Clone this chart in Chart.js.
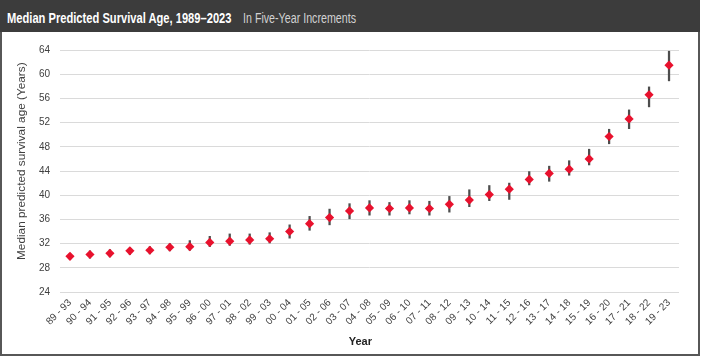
<!DOCTYPE html>
<html><head><meta charset="utf-8">
<script src="https://cdn.jsdelivr.net/npm/chart.js@4"></script>
<style>
html,body{margin:0;padding:0;background:#fff;overflow:hidden;}
#frame{position:absolute;left:0;top:0;width:700px;height:356px;box-sizing:border-box;border:2px solid #575757;border-top:none;background:#fff;}
#head{position:absolute;left:0;top:0;width:700px;height:32px;background:#3c3c3c;}
.ht{position:absolute;top:11px;font-size:14px;line-height:14px;white-space:nowrap;transform-origin:0 0;font-family:"Liberation Sans Narrow","Liberation Sans",Arial,sans-serif;}
#title{left:7px;font-weight:bold;color:#ffffff;}
#sub{left:243px;font-weight:normal;color:#d2d2d2;}
#wrap{position:absolute;left:0;top:0;width:702px;height:358px;}
</style></head>
<body>
<div id="frame"></div>
<div id="head">
  <span class="ht" id="title">Median Predicted Survival Age, 1989–2023</span>
  <span class="ht" id="sub">In Five-Year Increments</span>
</div>
<div id="wrap"><canvas id="c"></canvas></div>
<script>
const categories = ["89 - 93","90 - 94","91 - 95","92 - 96","93 - 97","94 - 98","95 - 99","96 - 00","97 - 01","98 - 02","99 - 03","00 - 04","01 - 05","02 - 06","03 - 07","04 - 08","05 - 09","06 - 10","07 - 11","08 - 12","09 - 13","10 - 14","11 - 15","12 - 16","13 - 17","14 - 18","15 - 19","16 - 20","17 - 21","18 - 22","19 - 23"];
const medianAge = [29.9,30.2,30.4,30.8,30.9,31.4,31.5,32.2,32.4,32.6,32.8,34.0,35.3,36.3,37.4,37.9,37.8,37.9,37.8,38.5,39.2,40.1,41.0,42.6,43.6,44.3,46.0,49.7,52.6,56.6,61.5];
const lowerCI = [29.4,29.6,29.8,30.2,30.3,30.8,30.9,31.5,31.7,31.9,32.1,32.9,34.2,35.1,36.1,36.7,36.7,36.9,36.7,37.2,38.1,39.1,39.3,41.7,42.3,43.3,45.0,48.5,51.0,54.6,58.9];
const upperCI = [30.4,30.8,31.0,31.3,31.5,32.0,32.5,33.2,33.6,33.6,33.8,35.1,36.5,37.7,38.6,39.1,38.8,39.1,39.0,39.8,40.9,41.6,42.0,43.9,44.8,45.7,47.6,50.9,54.1,57.9,63.8];
const yTicks = [24,28,32,36,40,44,48,52,56,60,64];

// fit header texts to reference widths
function fitText(id, w){ const el=document.getElementById(id); const r=el.getBoundingClientRect().width; el.style.transform='scaleX('+(w/r)+')'; }
fitText('title',224.5); fitText('sub',113);

const tickFont = {family:"'Liberation Sans', Arial, sans-serif", size:10};
new Chart(document.getElementById('c'), {
  type:'bar',
  data:{
    labels:categories,
    datasets:[
      {type:'line', label:'Median', data:medianAge, showLine:false, pointStyle:'rectRot', pointRadius:4.6, pointHoverRadius:4.6, pointBackgroundColor:'#e8112d', pointBorderWidth:0, borderWidth:0, order:0},
      {type:'bar', label:'CI', data:lowerCI.map((l,i)=>[l,upperCI[i]]), backgroundColor:'#4d4d4d', barThickness:1.6, order:1}
    ]
  },
  options:{
    responsive:true, maintainAspectRatio:false, animation:false,
    layout:{padding:{left:0,right:23,top:50,bottom:8}},
    plugins:{legend:{display:false}, tooltip:{enabled:false}},
    scales:{
      x:{
        grid:{display:false, drawTicks:false}, border:{display:false},
        ticks:{autoSkip:false, minRotation:45, maxRotation:45, padding:5, color:'#404040', font:tickFont},
        title:{display:true, text:'Year      ', color:'#222', font:{family:"'Liberation Sans', Arial, sans-serif", size:11, weight:'bold'}, padding:{top:0,bottom:1}},
        afterFit:(s)=>{ s.height = 58; }
      },
      y:{
        min:24, max:64,
        afterBuildTicks:(s)=>{ s.ticks = yTicks.map(v=>({value:v})); },
        grid:{color:'#dadada', lineWidth:1, drawTicks:false}, border:{display:false},
        ticks:{padding:10, color:'#404040', font:tickFont},
        title:{display:true, text:'      Median predicted survival age (Years)', color:'#404040', font:{family:"'Liberation Sans', Arial, sans-serif", size:11.8}, padding:{top:15,bottom:0}},
        afterFit:(s)=>{ s.width = 60; }
      }
    }
  }
});
</script>
</body></html>
